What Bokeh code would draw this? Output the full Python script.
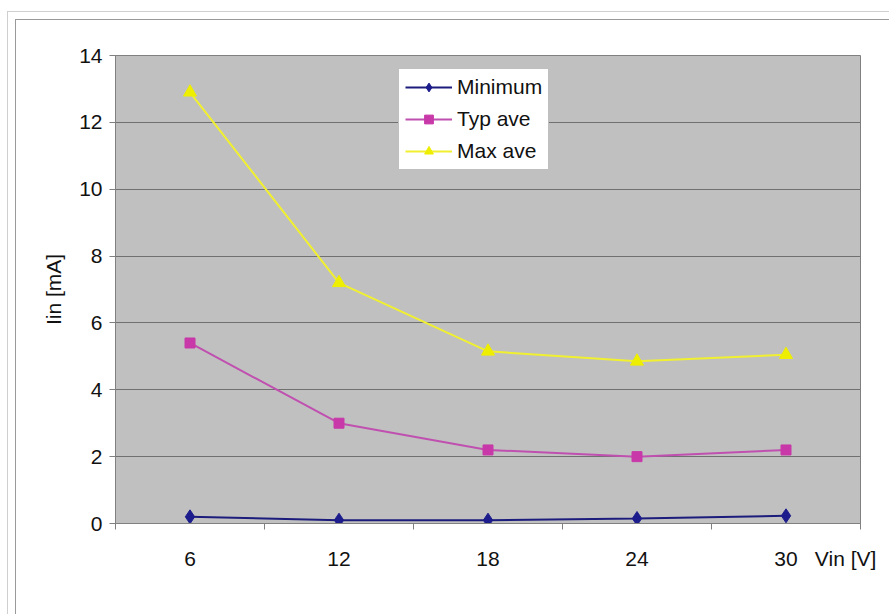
from bokeh.plotting import figure
from bokeh.models import FixedTicker, Legend, LegendItem, Range1d
from bokeh.embed import file_html
from bokeh.resources import INLINE

categories = ["6", "12", "18", "24", "30"]
minimum = [0.2, 0.1, 0.1, 0.15, 0.23]
typ_ave = [5.4, 3.0, 2.2, 2.0, 2.2]
max_ave = [12.9, 7.2, 5.15, 4.85, 5.05]
y_ticks = [0, 2, 4, 6, 8, 10, 12, 14]
x_title = "Vin [V]"

xs = list(range(1, len(categories) + 1))
FONT = "Liberation Sans"
FS = "21px"

W, H = 889, 614
p = figure(width=W, height=H, output_backend="svg", toolbar_location=None,
           x_range=Range1d(0.5, len(categories) + 0.5), y_range=Range1d(0, 14),
           min_border_left=115, min_border_top=55, min_border_right=29, min_border_bottom=91)
p.background_fill_color = "#c0c0c0"
p.border_fill_alpha = 0
p.outline_line_color = "#808080"
p.outline_line_width = 1
p.styles = {
    "background": (
        "linear-gradient(#cfcfcf,#cfcfcf) 7px 11px / 100% 1px no-repeat,"
        "linear-gradient(#cfcfcf,#cfcfcf) 7px 11px / 1px 100% no-repeat,"
        "linear-gradient(#9a9a9a,#9a9a9a) 15px 19px / 100% 1px no-repeat,"
        "linear-gradient(#9a9a9a,#9a9a9a) 15px 19px / 1px 100% no-repeat,"
        "white"
    )
}

# axes: category labels at centres, ticks between categories; axis title as last label
title_pos = len(categories) + 0.4
p.xaxis.ticker = FixedTicker(ticks=xs + [title_pos],
                             minor_ticks=[x - 0.5 for x in xs] + [len(xs) + 0.5])
overrides = {x: c for x, c in zip(xs, categories)}
overrides[title_pos] = x_title
p.xaxis.major_label_overrides = overrides
p.xaxis.major_tick_out = 0
p.xaxis.major_tick_in = 0
p.xaxis.minor_tick_out = 6
p.xaxis.minor_tick_in = 0
p.xaxis.minor_tick_line_color = "#808080"
p.xaxis.axis_line_color = "#808080"
p.xaxis.major_label_standoff = 17
p.xaxis.major_label_text_font = FONT
p.xaxis.major_label_text_font_size = FS
p.xaxis.major_label_text_color = "#111111"

p.yaxis.ticker = FixedTicker(ticks=y_ticks)
p.yaxis.minor_tick_line_color = None
p.yaxis.major_tick_out = 6
p.yaxis.major_tick_in = 0
p.yaxis.major_tick_line_color = "#808080"
p.yaxis.axis_line_color = "#808080"
p.yaxis.major_label_standoff = 7
p.yaxis.major_label_text_font = FONT
p.yaxis.major_label_text_font_size = FS
p.yaxis.major_label_text_color = "#111111"
p.yaxis.axis_label = "Iin [mA]"
p.yaxis.axis_label_text_font = FONT
p.yaxis.axis_label_text_font_style = "normal"
p.yaxis.axis_label_text_font_size = FS
p.yaxis.axis_label_text_color = "#111111"
p.yaxis.axis_label_standoff = 11

p.xgrid.grid_line_color = None
p.ygrid.grid_line_color = "#707070"
p.ygrid.grid_line_width = 1

r1l = p.line(xs, minimum, line_color="#1c1c7c", line_width=2)
r1m = p.scatter(xs, minimum, marker="diamond", size=14, fill_color="#1c1c8c", line_color="#1c1c8c")
r2l = p.line(xs, typ_ave, line_color="#c050b0", line_width=2)
r2m = p.scatter(xs, typ_ave, marker="square", size=10, fill_color="#c838a8", line_color="#c838a8")
r3l = p.line(xs, max_ave, line_color="#f0f030", line_width=2)
r3m = p.scatter(xs, max_ave, marker="triangle", size=13, fill_color="#eeee00", line_color="#eeee00")

legend = Legend(items=[
    LegendItem(label="Minimum", renderers=[r1l, r1m]),
    LegendItem(label="Typ ave", renderers=[r2l, r2m]),
    LegendItem(label="Max ave", renderers=[r3l, r3m]),
], location=(283, 353))
legend.label_text_font = FONT
legend.label_text_font_size = FS
legend.label_text_color = "#111111"
legend.glyph_width = 47
legend.glyph_height = 22
legend.label_height = 22
legend.label_standoff = 5
legend.spacing = 8
legend.padding = 6
legend.margin = 0
legend.border_line_color = "#808080"
legend.border_line_width = 1
legend.background_fill_color = "white"
legend.background_fill_alpha = 1
p.add_layout(legend, "center")

open("out.html", "w").write(file_html(p, INLINE))
